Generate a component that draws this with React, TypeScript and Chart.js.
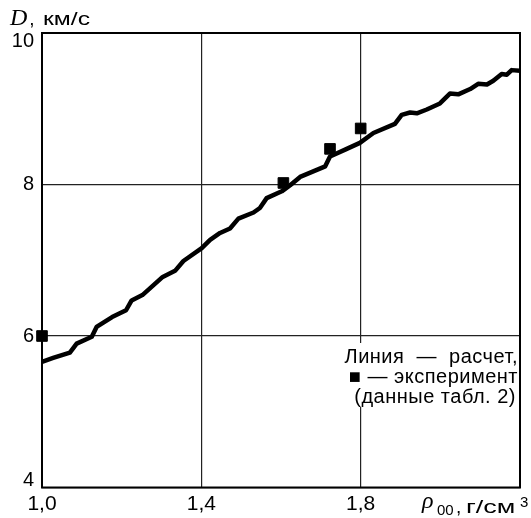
import React, { useEffect, useRef } from "react";
import { Chart, registerables } from "chart.js";

Chart.register(...registerables);

// Calculated curve D(ρ00)
const curveRho = [1.0, 1.028, 1.070, 1.087, 1.125, 1.137, 1.176, 1.211, 1.225, 1.252, 1.303, 1.334, 1.355, 1.401, 1.422, 1.447, 1.472, 1.493, 1.531, 1.547, 1.564, 1.602, 1.623, 1.648, 1.711, 1.723, 1.761, 1.798, 1.832, 1.886, 1.903, 1.924, 1.941, 1.966, 1.999, 2.024, 2.045, 2.075, 2.095, 2.117, 2.133, 2.154, 2.167, 2.179, 2.2];
const curveD = [5.66, 5.71, 5.78, 5.90, 5.99, 6.12, 6.25, 6.34, 6.47, 6.54, 6.78, 6.86, 6.99, 7.16, 7.27, 7.36, 7.42, 7.55, 7.63, 7.69, 7.82, 7.91, 7.99, 8.10, 8.24, 8.37, 8.46, 8.55, 8.68, 8.80, 8.92, 8.95, 8.94, 8.99, 9.07, 9.20, 9.19, 9.26, 9.33, 9.32, 9.37, 9.46, 9.45, 9.51, 9.50];

// Experimental points
const expRho = [1.0, 1.606, 1.723, 1.8];
const expD = [6.0, 8.02, 8.47, 8.74];

// Axis ticks
const xTicks = [1.0, 1.4, 1.8, 2.2];
const xTickLabels = ["1,0", "1,4", "1,8", ""];
const yTicks = [4, 6, 8, 10];
const yTickLabels = ["4", "6", "8", "10"];

const legendLines = ["Линия  —  расчет,", "■ — эксперимент", "(данные табл. 2)"];

const SANS = '"Liberation Sans", Arial, sans-serif';
const SERIF = '"Liberation Serif", "Times New Roman", serif';

function drawWide(ctx: CanvasRenderingContext2D, text: string, x: number, y: number, sx: number) {
  ctx.save();
  ctx.translate(x, y);
  ctx.scale(sx, 1);
  ctx.fillText(text, 0, 0);
  ctx.restore();
}

const decorPlugin = {
  id: "decor",
  beforeDatasetsDraw(chart: any) {
    const { ctx, chartArea } = chart;
    const { right } = chartArea;
    ctx.save();
    ctx.fillStyle = "#fff";
    ctx.fillRect(336, 343, right - 337, 64);
    ctx.restore();
  },
  afterDraw(chart: any) {
    const { ctx, chartArea, scales } = chart;
    const { left, right, top, bottom } = chartArea;
    ctx.save();
    // frame
    ctx.strokeStyle = "#000";
    ctx.lineWidth = 2;
    ctx.strokeRect(left, top, right - left, bottom - top);

    // y tick labels
    ctx.fillStyle = "#000";
    ctx.font = `20px ${SANS}`;
    ctx.textAlign = "right";
    ctx.textBaseline = "middle";
    yTicks.forEach((v, i) => {
      let py = scales.y.getPixelForValue(v);
      py = Math.min(Math.max(py, top + 8), bottom - 7);
      ctx.fillText(yTickLabels[i], 34, py);
    });
    // x tick labels
    ctx.textAlign = "center";
    ctx.font = `21px ${SANS}`;
    xTicks.forEach((v, i) => {
      const px = scales.x.getPixelForValue(v);
      if (xTickLabels[i]) ctx.fillText(xTickLabels[i], px, 504);
    });

    // y axis title
    ctx.textAlign = "left";
    ctx.textBaseline = "alphabetic";
    ctx.font = `italic 24px ${SERIF}`;
    ctx.fillText("D", 10, 25);
    const w = ctx.measureText("D").width;
    ctx.font = `19px ${SANS}`;
    ctx.fillText(",", 10 + w + 2, 25);
    drawWide(ctx, "км/с", 43, 25, 1.3);

    // x axis title
    ctx.font = `italic 24px ${SERIF}`;
    ctx.fillText("ρ", 422, 508);
    ctx.font = `15px ${SANS}`;
    ctx.fillText("00", 437, 515);
    ctx.font = `19px ${SANS}`;
    ctx.fillText(",", 456, 513);
    drawWide(ctx, "г/см", 466, 513, 1.42);
    ctx.font = `15px ${SANS}`;
    ctx.fillText("3", 520, 507);

    // legend text
    ctx.font = `20px ${SANS}`;
    (ctx as any).letterSpacing = "0.5px";
    ctx.textAlign = "right";
    ctx.textBaseline = "middle";
    ctx.fillText(legendLines[0], 518, 357);
    ctx.fillText(legendLines[1], 518, 377);
    ctx.fillText(legendLines[2], 516, 397);
    (ctx as any).letterSpacing = "0px";
    ctx.restore();
  },
};

export default function App() {
  const ref = useRef<HTMLCanvasElement>(null);
  useEffect(() => {
    if (!ref.current) return;
    const chart = new Chart(ref.current, {
      type: "scatter",
      data: {
        datasets: [
          {
            data: curveRho.map((x, i) => ({ x, y: curveD[i] })),
            showLine: true,
            borderColor: "#000",
            backgroundColor: "#000",
            borderWidth: 4.5,
            pointRadius: 0,
            borderJoinStyle: "round",
            borderCapStyle: "round",
            tension: 0,
          },
          {
            data: expRho.map((x, i) => ({ x, y: expD[i] })),
            showLine: false,
            pointStyle: "rect",
            pointRadius: 7.5,
            borderWidth: 1,
            borderColor: "#000",
            backgroundColor: "#000",
            clip: false,
          } as any,
        ],
      },
      options: {
        responsive: false,
        animation: false,
        layout: { padding: { top: 33, right: 11, left: 0, bottom: 0 } },
        plugins: { legend: { display: false }, tooltip: { enabled: false } },
        scales: {
          x: {
            type: "linear",
            min: 1.0,
            max: 2.2,
            afterBuildTicks: (s: any) => {
              s.ticks = xTicks.map((v) => ({ value: v }));
            },
            afterFit: (s: any) => {
              s.height = 30.5;
            },
            ticks: { display: false },
            grid: { color: "#222", lineWidth: 1.2, drawTicks: false },
            border: { display: false },
          },
          y: {
            type: "linear",
            min: 4,
            max: 10,
            afterBuildTicks: (s: any) => {
              s.ticks = yTicks.map((v) => ({ value: v }));
            },
            afterFit: (s: any) => {
              s.width = 42;
            },
            ticks: { display: false },
            grid: { color: "#222", lineWidth: 1.2, drawTicks: false },
            border: { display: false },
          },
        },
      },
      plugins: [decorPlugin],
    });
    return () => chart.destroy();
  }, []);
  return (
    <div style={{ position: "absolute", left: 0, top: 0, width: 531, height: 518, background: "#fff" }}>
      <canvas ref={ref} width={531} height={518} style={{ display: "block" }} />
    </div>
  );
}
